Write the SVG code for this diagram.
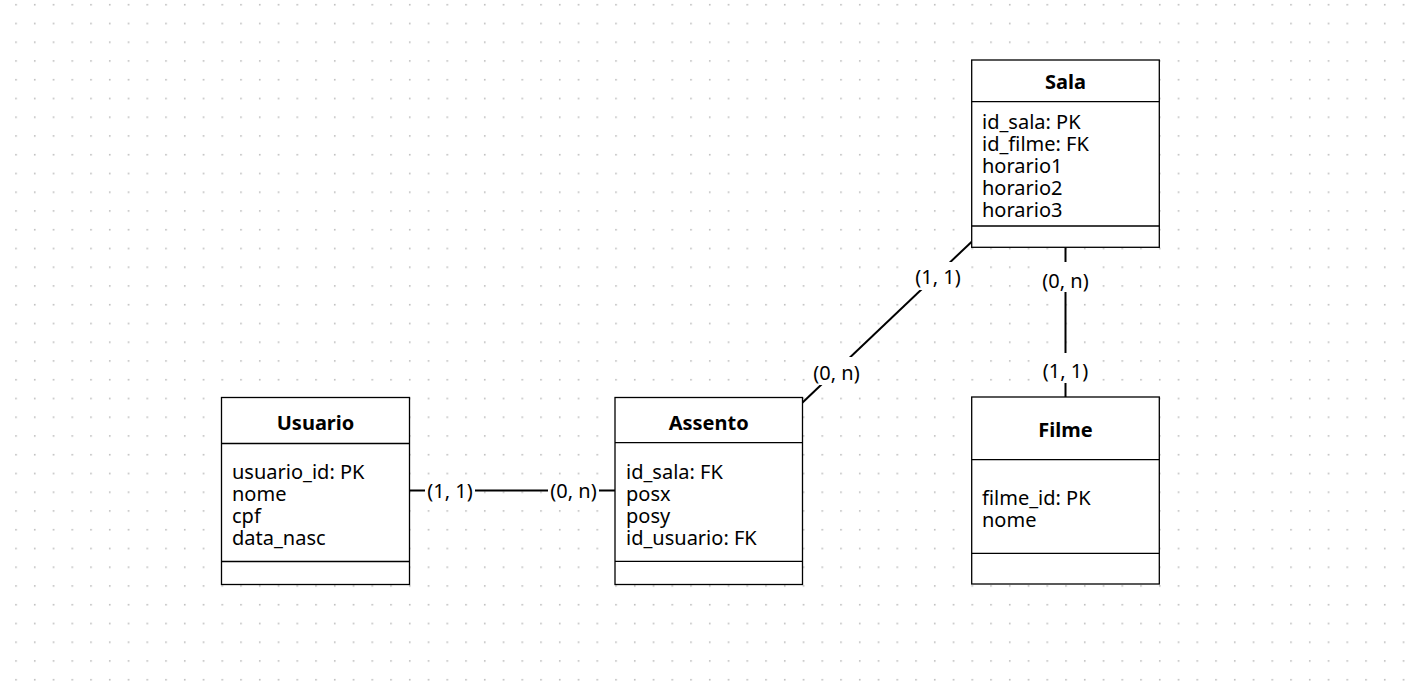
<svg xmlns="http://www.w3.org/2000/svg" width="1407" height="687" viewBox="0 0 1407 687">
<style>
.box{fill:#fff;stroke:#000;stroke-width:1.3}
.sep{stroke:#000;stroke-width:1.3;fill:none}
.title{font-family:"Noto Sans",sans-serif;font-size:20px;font-weight:bold;fill:#000;text-anchor:middle}
.attr{font-family:"Noto Sans",sans-serif;font-size:20px;fill:#000}
.lbl{font-family:"Noto Sans",sans-serif;font-size:20px;fill:#000;text-anchor:middle;dominant-baseline:central}
.edge{stroke:#000;stroke-width:2;fill:none}
.lblbg{fill:#fff}
</style>
<defs>
<pattern id="grid" x="15.2" y="3.9" width="18.75" height="18.75" patternUnits="userSpaceOnUse">
<rect x="0" y="0" width="1.6" height="1.6" fill="#bdbdbd"/>
</pattern>
</defs>
<rect width="1407" height="687" fill="#fff"/>
<rect width="1407" height="687" fill="url(#grid)"/>

<g id="connectors">
<path class="edge" d="M409.5,490.5 H615"/>
<path class="edge" d="M971.7,241.7 L802.3,402.7"/>
<path class="edge" d="M1065.5,247.3 V397"/>
<rect class="lblbg" x="425" y="478" width="50" height="25"/>
<text class="lbl" x="450" y="490">(1, 1)</text>
<rect class="lblbg" x="548" y="478" width="51" height="25"/>
<text class="lbl" x="573.5" y="490">(0, n)</text>
<rect class="lblbg" x="913" y="262" width="50" height="28"/>
<text class="lbl" x="938" y="276">(1, 1)</text>
<rect class="lblbg" x="811" y="357" width="51" height="28"/>
<text class="lbl" x="836.5" y="372">(0, n)</text>
<rect class="lblbg" x="1040" y="262" width="51" height="30"/>
<text class="lbl" x="1065.5" y="280">(0, n)</text>
<rect class="lblbg" x="1040" y="353" width="51" height="30"/>
<text class="lbl" x="1065.5" y="370">(1, 1)</text>
</g>

<g id="usuario">
<rect class="box" x="221.5" y="397.5" width="188" height="187"/>
<path class="sep" d="M221.5,443.5 H409.5 M221.5,561.5 H409.5"/>
<text class="title" x="315.5" y="430">Usuario</text>
<text class="attr" x="232" y="479">usuario_id: PK</text>
<text class="attr" x="232" y="501">nome</text>
<text class="attr" x="232" y="523">cpf</text>
<text class="attr" x="232" y="545">data_nasc</text>
</g>

<g id="assento">
<rect class="box" x="615" y="397.5" width="187.5" height="187"/>
<path class="sep" d="M615,442.7 H802.5 M615,561.3 H802.5"/>
<text class="title" x="708.7" y="430">Assento</text>
<text class="attr" x="626" y="479">id_sala: FK</text>
<text class="attr" x="626" y="501">posx</text>
<text class="attr" x="626" y="523">posy</text>
<text class="attr" x="626" y="545">id_usuario: FK</text>
</g>

<g id="sala">
<rect class="box" x="971.7" y="60" width="187.6" height="187.3"/>
<path class="sep" d="M971.7,101.7 H1159.3 M971.7,226 H1159.3"/>
<text class="title" x="1065.5" y="89">Sala</text>
<text class="attr" x="982" y="129">id_sala: PK</text>
<text class="attr" x="982" y="151">id_filme: FK</text>
<text class="attr" x="982" y="173">horario1</text>
<text class="attr" x="982" y="195">horario2</text>
<text class="attr" x="982" y="217">horario3</text>
</g>

<g id="filme">
<rect class="box" x="971.7" y="397" width="187.6" height="187"/>
<path class="sep" d="M971.7,459.7 H1159.3 M971.7,553.3 H1159.3"/>
<text class="title" x="1065.5" y="437">Filme</text>
<text class="attr" x="982" y="505">filme_id: PK</text>
<text class="attr" x="982" y="527">nome</text>
</g>
</svg>
